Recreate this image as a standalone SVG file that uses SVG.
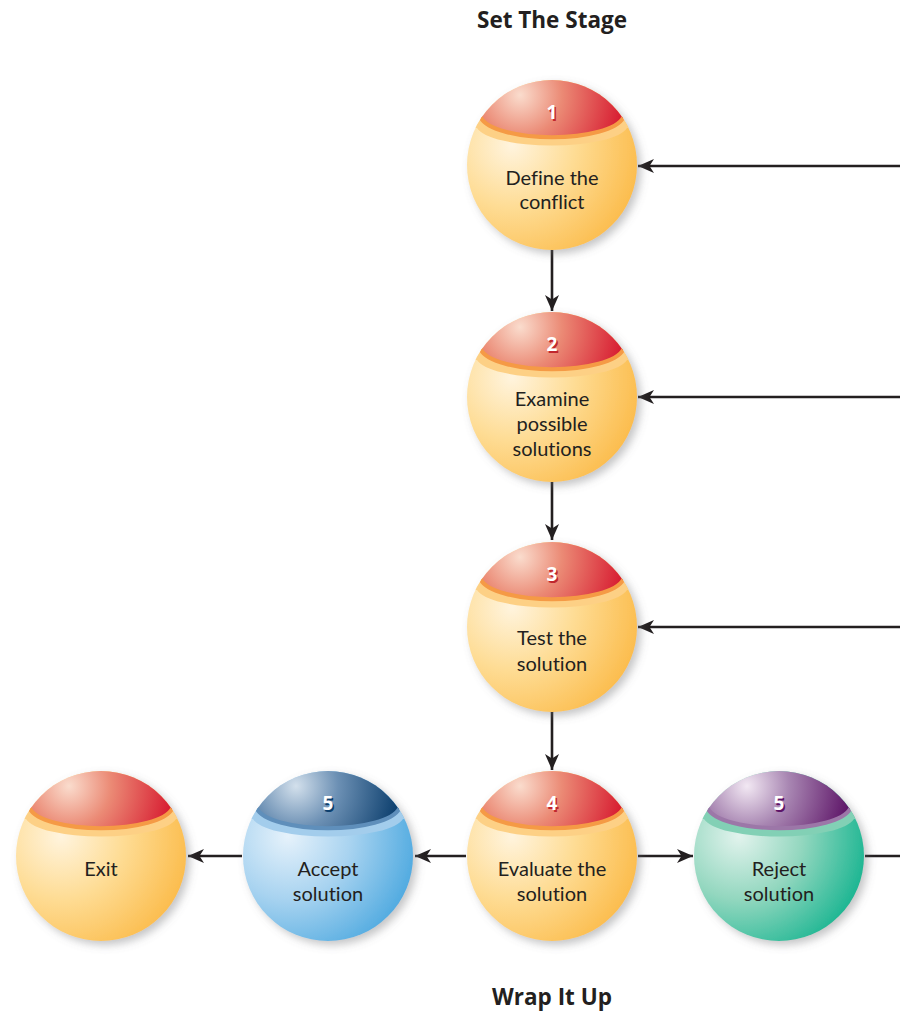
<svg xmlns="http://www.w3.org/2000/svg" xmlns:xlink="http://www.w3.org/1999/xlink" width="900" height="1011" viewBox="0 0 900 1011">
  <style>
    .title { font-family: "Open Sans", "Liberation Sans", sans-serif; font-weight: 700; font-size: 22.5px; fill: #231f20; text-anchor: middle; }
    .label { font-family: "Lato", "Open Sans", "Liberation Sans", sans-serif; font-size: 20px; fill: #231f20; text-anchor: middle; font-variant-ligatures: none; }
    .num { font-family: "Open Sans", "Liberation Sans", sans-serif; font-weight: 700; font-size: 19px; text-anchor: middle; }
    .num-fg { fill: #ffffff; }
    .wire { stroke: #231f20; stroke-width: 2.6; fill: none; }
  </style>
  <defs>
    <marker id="arrow" markerUnits="userSpaceOnUse" markerWidth="18" markerHeight="16" refX="16" refY="8" orient="auto">
      <path d="M0,1 L16,8 L0,15 L4.5,8 Z" fill="#231f20"/>
    </marker>

    <filter id="shadow" x="-30%" y="-30%" width="160%" height="160%">
      <feGaussianBlur in="SourceAlpha" stdDeviation="4"/>
      <feOffset dx="4" dy="4" result="blur"/>
      <feFlood flood-color="#6d6e71" flood-opacity="0.4"/>
      <feComposite in2="blur" operator="in"/>
      <feMerge>
        <feMergeNode/>
        <feMergeNode in="SourceGraphic"/>
      </feMerge>
    </filter>

    <clipPath id="ball">
      <circle r="85"/>
    </clipPath>

    <!-- body gradients (local sphere coordinates) -->
    <radialGradient id="body-warm" gradientUnits="userSpaceOnUse" cx="-40" cy="-20" r="140">
      <stop offset="0" stop-color="#fff4de"/>
      <stop offset="0.45" stop-color="#fedc94"/>
      <stop offset="1" stop-color="#fbb843"/>
    </radialGradient>
    <radialGradient id="body-blue" gradientUnits="userSpaceOnUse" cx="-40" cy="-20" r="140">
      <stop offset="0" stop-color="#e6f2fb"/>
      <stop offset="0.45" stop-color="#a8d3f0"/>
      <stop offset="1" stop-color="#45a5de"/>
    </radialGradient>
    <radialGradient id="body-green" gradientUnits="userSpaceOnUse" cx="-40" cy="-20" r="140">
      <stop offset="0" stop-color="#e2f3ed"/>
      <stop offset="0.45" stop-color="#93d7bf"/>
      <stop offset="1" stop-color="#0cb18c"/>
    </radialGradient>

    <!-- cap gradients (local sphere coordinates) -->
    <radialGradient id="cap-red" gradientUnits="userSpaceOnUse" cx="-32" cy="-70" r="105">
      <stop offset="0" stop-color="#fadccd"/>
      <stop offset="0.4" stop-color="#eb8a75"/>
      <stop offset="1" stop-color="#d71a30"/>
    </radialGradient>
    <radialGradient id="cap-blue" gradientUnits="userSpaceOnUse" cx="-32" cy="-70" r="105">
      <stop offset="0" stop-color="#d3e0ec"/>
      <stop offset="0.4" stop-color="#6c90b4"/>
      <stop offset="1" stop-color="#0a3d6c"/>
    </radialGradient>
    <radialGradient id="cap-purple" gradientUnits="userSpaceOnUse" cx="-32" cy="-70" r="105">
      <stop offset="0" stop-color="#f2e8f3"/>
      <stop offset="0.4" stop-color="#a886b2"/>
      <stop offset="1" stop-color="#5c1266"/>
    </radialGradient>

    <!-- sphere templates, centred on 0,0 -->
    <g id="orb-warm">
      <circle r="85" fill="url(#body-warm)" filter="url(#shadow)"/>
      <g clip-path="url(#ball)">
        <path d="M-95,-47 L-71,-47 A72,23 0 0 0 71,-47 L95,-47 L95,-37 L75,-37 A76,21 0 0 1 -75,-37 L-95,-37 Z" fill="#fdd085"/>
        <path d="M-95,-110 L95,-110 L95,-47 L71,-47 A72,23 0 0 1 -71,-47 L-95,-47 Z" fill="url(#cap-red)" stroke="#f59a45" stroke-width="4"/>
      </g>
    </g>
    <g id="orb-blue">
      <circle r="85" fill="url(#body-blue)" filter="url(#shadow)"/>
      <g clip-path="url(#ball)">
        <path d="M-95,-47 L-71,-47 A72,23 0 0 0 71,-47 L95,-47 L95,-37 L75,-37 A76,21 0 0 1 -75,-37 L-95,-37 Z" fill="#a3cdec"/>
        <path d="M-95,-110 L95,-110 L95,-47 L71,-47 A72,23 0 0 1 -71,-47 L-95,-47 Z" fill="url(#cap-blue)" stroke="#5f8fbb" stroke-width="4"/>
      </g>
    </g>
    <g id="orb-green">
      <circle r="85" fill="url(#body-green)" filter="url(#shadow)"/>
      <g clip-path="url(#ball)">
        <path d="M-95,-47 L-71,-47 A72,23 0 0 0 71,-47 L95,-47 L95,-37 L75,-37 A76,21 0 0 1 -75,-37 L-95,-37 Z" fill="#82d0b5"/>
        <path d="M-95,-110 L95,-110 L95,-47 L71,-47 A72,23 0 0 1 -71,-47 L-95,-47 Z" fill="url(#cap-purple)" stroke="#9c77a8" stroke-width="4"/>
      </g>
    </g>
  </defs>

  <rect width="900" height="1011" fill="#ffffff"/>

  <text class="title" x="552" y="28">Set The Stage</text>
  <text class="title" x="552" y="1005">Wrap It Up</text>

  <!-- connectors -->
  <g id="connectors">
    <line class="wire" x1="552" y1="250" x2="552" y2="311" marker-end="url(#arrow)"/>
    <line class="wire" x1="552" y1="482" x2="552" y2="540" marker-end="url(#arrow)"/>
    <line class="wire" x1="552" y1="711" x2="552" y2="770" marker-end="url(#arrow)"/>
    <line class="wire" x1="900" y1="166" x2="638" y2="166" marker-end="url(#arrow)"/>
    <line class="wire" x1="900" y1="397" x2="638" y2="397" marker-end="url(#arrow)"/>
    <line class="wire" x1="900" y1="627" x2="638" y2="627" marker-end="url(#arrow)"/>
    <line class="wire" x1="466" y1="856" x2="415" y2="856" marker-end="url(#arrow)"/>
    <line class="wire" x1="242" y1="856" x2="188" y2="856" marker-end="url(#arrow)"/>
    <line class="wire" x1="638" y1="856" x2="693" y2="856" marker-end="url(#arrow)"/>
    <line class="wire" x1="865" y1="856" x2="900" y2="856"/>
  </g>

  <!-- nodes -->
  <g id="node-define" transform="translate(552,165)">
    <use href="#orb-warm"/>
    <text class="num" x="1.5" y="-44.5" fill="#c1272d">1</text>
    <text class="num num-fg" y="-46">1</text>
    <text class="label" y="20">Define the</text>
    <text class="label" y="44">conflict</text>
  </g>

  <g id="node-examine" transform="translate(552,397)">
    <use href="#orb-warm"/>
    <text class="num" x="1.5" y="-44.5" fill="#c1272d">2</text>
    <text class="num num-fg" y="-46">2</text>
    <text class="label" y="9">Examine</text>
    <text class="label" y="34">possible</text>
    <text class="label" y="59">solutions</text>
  </g>

  <g id="node-test" transform="translate(552,627)">
    <use href="#orb-warm"/>
    <text class="num" x="1.5" y="-44.5" fill="#c1272d">3</text>
    <text class="num num-fg" y="-46">3</text>
    <text class="label" y="18">Test the</text>
    <text class="label" y="44">solution</text>
  </g>

  <g id="node-evaluate" transform="translate(552,856)">
    <use href="#orb-warm"/>
    <text class="num" x="1.5" y="-44.5" fill="#c1272d">4</text>
    <text class="num num-fg" y="-46">4</text>
    <text class="label" y="20">Evaluate the</text>
    <text class="label" y="45">solution</text>
  </g>

  <g id="node-accept" transform="translate(328,856)">
    <use href="#orb-blue"/>
    <text class="num" x="1.5" y="-44.5" fill="#0c3f6e">5</text>
    <text class="num num-fg" y="-46">5</text>
    <text class="label" y="20">Accept</text>
    <text class="label" y="45">solution</text>
  </g>

  <g id="node-reject" transform="translate(779,856)">
    <use href="#orb-green"/>
    <text class="num" x="1.5" y="-44.5" fill="#5e1468">5</text>
    <text class="num num-fg" y="-46">5</text>
    <text class="label" y="20">Reject</text>
    <text class="label" y="45">solution</text>
  </g>

  <g id="node-exit" transform="translate(101,856)">
    <use href="#orb-warm"/>
    <text class="label" y="20">Exit</text>
  </g>
</svg>
